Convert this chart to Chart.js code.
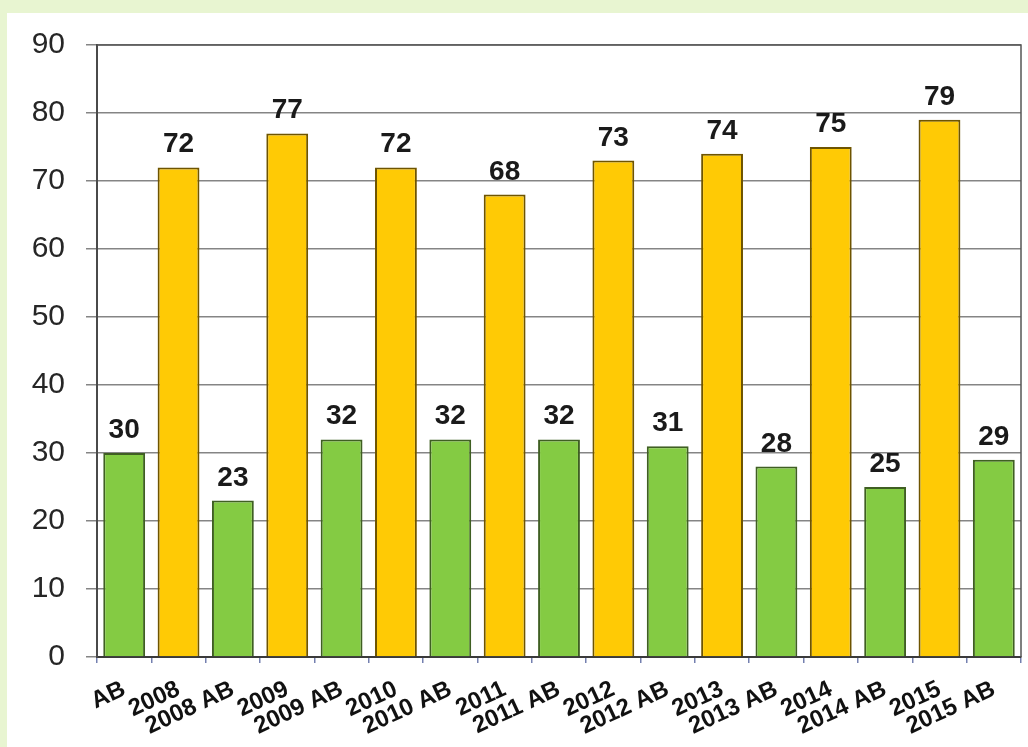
<!DOCTYPE html>
<html>
<head>
<meta charset="utf-8">
<script src="https://cdn.jsdelivr.net/npm/chart.js@4/dist/chart.umd.min.js"></script>
<style>
  html, body { margin: 0; padding: 0; background: #e8f5d1; }
  #wrap { position: absolute; left: 0; top: 0; width: 1028px; height: 747px; }
</style>
</head>
<body>
<div id="wrap"><canvas id="chart" width="1028" height="747"></canvas></div>
<script>
// Categories along the x axis
const categories = ["AB", "2008", "2008 AB", "2009", "2009 AB", "2010", "2010 AB",
  "2011", "2011 AB", "2012", "2012 AB", "2013", "2013 AB", "2014", "2014 AB", "2015", "2015 AB"];
// Bar values
const values = [30, 72, 23, 77, 32, 72, 32, 68, 32, 73, 31, 74, 28, 75, 25, 79, 29];
// Y axis range
const yTicks = { min: 0, max: 90, step: 10 };

const GREEN = '#84cb43', GREEN_EDGE = '#3f5f22';
const YELLOW = '#ffca05', YELLOW_EDGE = '#6e5400';
const isAB = (label) => /AB$/.test(label);

// Page panel: pale green margin with a white card
const panel = {
  id: 'panel',
  beforeDraw(chart) {
    const ctx = chart.ctx;
    ctx.save();
    ctx.fillStyle = '#e8f5d1';
    ctx.fillRect(0, 0, chart.width, chart.height);
    ctx.fillStyle = '#ffffff';
    ctx.fillRect(7, 13, chart.width - 7, chart.height - 13);
    ctx.restore();
  },
  afterDraw(chart) {
    const { ctx, chartArea: a } = chart;
    ctx.save();
    ctx.strokeStyle = '#555555';
    ctx.lineWidth = 1.5;
    ctx.beginPath();
    ctx.moveTo(a.left, a.top);
    ctx.lineTo(a.right, a.top);
    ctx.lineTo(a.right, a.bottom);
    ctx.stroke();
    ctx.restore();
  }
};

// Value labels above each bar
const valueLabels = {
  id: 'valueLabels',
  afterDatasetsDraw(chart) {
    const ctx = chart.ctx;
    const meta = chart.getDatasetMeta(0);
    ctx.save();
    ctx.font = 'bold 28px "Liberation Sans", Arial, sans-serif';
    ctx.fillStyle = '#1a1a1a';
    ctx.textAlign = 'center';
    ctx.textBaseline = 'alphabetic';
    meta.data.forEach((bar, i) => {
      ctx.fillText(String(values[i]), bar.x, bar.y - 15);
    });
    ctx.restore();
  }
};

new Chart(document.getElementById('chart'), {
  type: 'bar',
  data: {
    labels: categories,
    datasets: [{
      data: values,
      backgroundColor: categories.map(c => isAB(c) ? GREEN : YELLOW),
      borderColor: categories.map(c => isAB(c) ? GREEN_EDGE : YELLOW_EDGE),
      borderWidth: 2,
      borderSkipped: 'bottom',
      categoryPercentage: 1.0,
      barPercentage: 0.77
    }]
  },
  options: {
    responsive: false,
    animation: false,
    devicePixelRatio: 1,
    layout: { padding: { top: 45, right: 7, left: 0, bottom: 0 } },
    plugins: { legend: { display: false }, tooltip: { enabled: false } },
    scales: {
      x: {
        afterFit(scale) { scale.height = 90; },
        grid: { offset: true, drawOnChartArea: false, drawTicks: true, tickLength: 6, color: '#7480b0', lineWidth: 1.5 },
        border: { color: '#3a3a3a', width: 2 },
        ticks: {
          autoSkip: false,
          minRotation: 25,
          maxRotation: 25,
          padding: 12,
          color: '#111111',
          font: { family: '"Liberation Sans", Arial, sans-serif', size: 24, weight: 'bold' }
        }
      },
      y: {
        min: yTicks.min,
        max: yTicks.max,
        afterFit(scale) { scale.width = 97; },
        grid: { color: '#858585', lineWidth: 1.5, tickLength: 11 },
        border: { color: '#4a4a4a', width: 2 },
        ticks: {
          stepSize: yTicks.step,
          padding: 21,
          color: '#262626',
          font: { family: '"Liberation Sans", Arial, sans-serif', size: 30 }
        }
      }
    }
  },
  plugins: [panel, valueLabels]
});
</script>
</body>
</html>
